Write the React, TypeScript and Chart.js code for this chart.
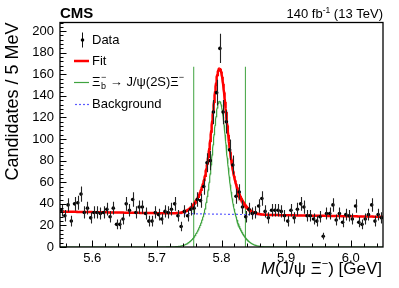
import React, { useEffect, useRef } from 'react';
import { Chart, registerables } from 'chart.js';

Chart.register(...registerables);

// ---- axis ranges / binning ----
const MASS_MIN = 5.55;
const MASS_MAX = 6.05;
const BIN_WIDTH = 0.005;
const Y_MIN = 0;
const Y_MAX = 208;

// ---- data: candidates per 5 MeV bin ----
const counts = [
  34, 29, 39, 24, 40, 41, 49, 32, 36, 27,
  32, 32, 31, 32, 35, 28, 36, 21, 21, 26,
  40, 34, 44, 32, 37, 37, 31, 24, 24, 32,
  30, 26, 33, 32, 35, 40, 29, 19, 33, 29,
  35, 36, 44, 43, 56, 78, 80, 125, 143, 184,
  125, 116, 90, 76, 47, 51, 37, 28, 35, 31,
  32, 38, 45, 33, 27, 34, 34, 34, 33, 29,
  24, 34, 27, 35, 40, 37, 29, 29, 26, 24,
  28, 10, 31, 31, 39, 25, 31, 23, 30, 29,
  26, 38, 23, 21, 26, 30, 39, 24, 30, 27,
];
const binCenters = counts.map((_, i) => MASS_MIN + BIN_WIDTH * (i + 0.5));

// ---- tick labels ----
const xTickValues = [5.6, 5.7, 5.8, 5.9, 6.0];
const yTickValues = [0, 20, 40, 60, 80, 100, 120, 140, 160, 180, 200];

// ---- fit model parameters ----
const SIG_MEAN = 5.797;
const SIG_AMP = 135;
const SIG_SIGMA1 = 0.0095;
const SIG_SIGMA2 = 0.021;
const SIG_FRAC2 = 0.4;
const BKG_AT_MIN = 32.8;
const BKG_SLOPE = -9.6;
const WINDOW_EDGES = [5.757, 5.837];
const WINDOW_TOP = 167;

// ---- legend / labels ----
const legendLabels = ['Data', 'Fit', 'Ξ', 'Background'];
const lumiLabel = '140 fb';
const energyLabel = ' (13 TeV)';
const yTitle = 'Candidates / 5 MeV';

const FONT = '"Liberation Sans", Arial, Helvetica, sans-serif';
const RED = '#ff0000';
const GREEN = '#3fa33f';
const BLUE = '#5a5aff';

const sig = (m: number) => {
  const d = m - SIG_MEAN;
  return SIG_AMP * ((1 - SIG_FRAC2) * Math.exp(-(d * d) / (2 * SIG_SIGMA1 * SIG_SIGMA1)) +
    SIG_FRAC2 * Math.exp(-(d * d) / (2 * SIG_SIGMA2 * SIG_SIGMA2)));
};
const bkg = (m: number) => BKG_AT_MIN + BKG_SLOPE * (m - MASS_MIN);

const curveX: number[] = [];
for (let i = 0; i <= 1000; i++) curveX.push(MASS_MIN + ((MASS_MAX - MASS_MIN) * i) / 1000);

const overlay = {
  id: 'overlay',
  afterDatasetsDraw(chart: any) {
    const { ctx, chartArea: a, scales } = chart;
    const x = scales.x, y = scales.y;
    ctx.save();
    ctx.beginPath();
    ctx.rect(a.left, a.top, a.right - a.left, a.bottom - a.top);
    ctx.clip();
    ctx.strokeStyle = '#222';
    ctx.lineWidth = 1.1;
    binCenters.forEach((m, i) => {
      const n = counts[i];
      const e = Math.sqrt(n);
      const px = Math.round(x.getPixelForValue(m)) + 0.5;
      ctx.beginPath();
      ctx.moveTo(px, y.getPixelForValue(n - e));
      ctx.lineTo(px, y.getPixelForValue(n + e));
      ctx.stroke();
    });
    ctx.restore();
  },
  afterDraw(chart: any) {
    const { ctx, chartArea: a, scales } = chart;
    const x = scales.x, y = scales.y;
    ctx.save();
    // frame
    ctx.strokeStyle = '#000';
    ctx.lineWidth = 1.3;
    ctx.strokeRect(a.left, a.top, a.right - a.left, a.bottom - a.top);
    // ticks
    ctx.lineWidth = 1;
    ctx.beginPath();
    for (let v = 0; v <= Y_MAX + 1e-9; v += 4) {
      const py = Math.round(y.getPixelForValue(v)) + 0.5;
      const len = v % 20 === 0 ? 6.5 : 3.5;
      ctx.moveTo(a.left, py);
      ctx.lineTo(a.left + len, py);
    }
    for (let k = 0; k <= 25; k++) {
      const v = 5.56 + 0.02 * k;
      if (v > MASS_MAX) break;
      const px = Math.round(x.getPixelForValue(v)) + 0.5;
      const major = k % 5 === 2;
      const len = major ? 6.5 : 3.5;
      ctx.moveTo(px, a.bottom);
      ctx.lineTo(px, a.bottom - len);
    }
    ctx.stroke();

    ctx.fillStyle = '#000';
    // CMS
    ctx.font = `bold 15px ${FONT}`;
    ctx.textAlign = 'left';
    ctx.textBaseline = 'alphabetic';
    ctx.fillText('CMS', a.left, 18);
    // lumi
    ctx.font = `13px ${FONT}`;
    const wE = ctx.measureText(energyLabel).width;
    ctx.font = `8.5px ${FONT}`;
    const wS = ctx.measureText('-1').width;
    ctx.font = `13px ${FONT}`;
    const wL = ctx.measureText(lumiLabel).width;
    const xr = a.right;
    ctx.fillText(energyLabel, xr - wE, 18);
    ctx.font = `8.5px ${FONT}`;
    ctx.fillText('-1', xr - wE - wS, 12.5);
    ctx.font = `13px ${FONT}`;
    ctx.fillText(lumiLabel, xr - wE - wS - wL, 18);

    // y title
    ctx.save();
    ctx.translate(13, a.top);
    ctx.rotate(-Math.PI / 2);
    ctx.font = `18px ${FONT}`;
    ctx.textAlign = 'right';
    ctx.textBaseline = 'middle';
    ctx.fillText(yTitle, 0, 0);
    ctx.restore();

    // x title: M(J/ψ Ξ⁻) [GeV]
    {
      const base = 274;
      const p1 = '(J/ψ Ξ';
      const p2 = ') [GeV]';
      const fs = 17;
      ctx.font = `${fs}px ${FONT}`;
      const w2 = ctx.measureText(p2).width;
      const w1 = ctx.measureText(p1).width;
      ctx.font = `11px ${FONT}`;
      const wsup = ctx.measureText('−').width;
      ctx.font = `italic ${fs}px ${FONT}`;
      const wM = ctx.measureText('M').width;
      let xx = a.right - 1 - w2 - wsup - w1 - wM;
      ctx.textAlign = 'left';
      ctx.fillText('M', xx, base); xx += wM;
      ctx.font = `${fs}px ${FONT}`;
      ctx.fillText(p1, xx, base); xx += w1;
      ctx.font = `11px ${FONT}`;
      ctx.fillText('−', xx, base - 7.5); xx += wsup;
      ctx.font = `${fs}px ${FONT}`;
      ctx.fillText(p2, xx, base);
    }

    // legend
    const lx0 = 74, lx1 = 89, tx = 92;
    const rows = [40, 61, 82, 104];
    ctx.textBaseline = 'middle';
    ctx.font = `13px ${FONT}`;
    // Data
    ctx.strokeStyle = '#111';
    ctx.lineWidth = 1;
    ctx.beginPath();
    ctx.moveTo(82.5, rows[0] - 7.5);
    ctx.lineTo(82.5, rows[0] + 7.5);
    ctx.stroke();
    ctx.beginPath();
    ctx.arc(82.5, rows[0], 1.8, 0, Math.PI * 2);
    ctx.fill();
    ctx.fillText(legendLabels[0], tx, rows[0] + 0.5);
    // Fit
    ctx.strokeStyle = RED;
    ctx.lineWidth = 2.5;
    ctx.beginPath();
    ctx.moveTo(lx0, rows[1]);
    ctx.lineTo(lx1, rows[1]);
    ctx.stroke();
    ctx.fillText(legendLabels[1], tx, rows[1] + 0.5);
    // Signal
    ctx.strokeStyle = GREEN;
    ctx.lineWidth = 1.2;
    ctx.beginPath();
    ctx.moveTo(lx0, rows[2] + 0.5);
    ctx.lineTo(lx1, rows[2] + 0.5);
    ctx.stroke();
    {
      let xx = tx;
      const r = rows[2] + 0.5;
      ctx.font = `13px ${FONT}`;
      ctx.fillText(legendLabels[2], xx, r);
      xx += ctx.measureText(legendLabels[2]).width + 0.5;
      ctx.font = `9px ${FONT}`;
      ctx.fillText('b', xx, r + 4);
      ctx.fillText('−', xx, r - 5);
      xx += ctx.measureText('−').width;
      ctx.font = `13px ${FONT}`;
      const mid = ' → J/ψ(2S)Ξ';
      ctx.fillText(mid, xx, r);
      xx += ctx.measureText(mid).width;
      ctx.font = `9px ${FONT}`;
      ctx.fillText('−', xx, r - 5);
    }
    // Background
    ctx.font = `13px ${FONT}`;
    ctx.strokeStyle = BLUE;
    ctx.lineWidth = 1.2;
    ctx.setLineDash([2, 2]);
    ctx.beginPath();
    ctx.moveTo(lx0 + 1, rows[3] + 0.5);
    ctx.lineTo(lx1 + 1, rows[3] + 0.5);
    ctx.stroke();
    ctx.setLineDash([]);
    ctx.fillText(legendLabels[3], tx, rows[3] + 0.5);
    ctx.restore();
  },
};

export default function App() {
  const ref = useRef<HTMLCanvasElement>(null);
  useEffect(() => {
    document.body.style.margin = '0';
    const canvas = ref.current!;
    const dataPts = binCenters.map((m, i) => ({ x: m, y: counts[i] }));
    const fitPts = curveX.map((m) => ({ x: m, y: sig(m) + bkg(m) }));
    const sigPts = curveX.map((m) => ({ x: m, y: sig(m) }));
    const bkgPts = curveX.map((m) => ({ x: m, y: bkg(m) }));
    const winL = [{ x: WINDOW_EDGES[0], y: 0 }, { x: WINDOW_EDGES[0], y: WINDOW_TOP }];
    const winR = [{ x: WINDOW_EDGES[1], y: 0 }, { x: WINDOW_EDGES[1], y: WINDOW_TOP }];
    const lineDs = (data: any[], color: string, width: number, dash: number[] = []) => ({
      type: 'scatter' as const,
      data,
      showLine: true,
      borderColor: color,
      borderWidth: width,
      borderDash: dash,
      pointRadius: 0,
      tension: 0,
      fill: false,
    });
    const chart = new Chart(canvas, {
      type: 'scatter',
      data: {
        datasets: [
          {
            data: dataPts,
            pointRadius: 1.8,
            pointBackgroundColor: '#000',
            pointBorderWidth: 0,
            showLine: false,
          } as any,
          lineDs(fitPts, RED, 2.5),
          lineDs(bkgPts, BLUE, 1.2, [2, 2]),
          lineDs(sigPts, GREEN, 1.2),
          lineDs(winL, GREEN, 1),
          lineDs(winR, GREEN, 1),
        ],
      },
      options: {
        responsive: false,
        animation: false,
        devicePixelRatio: 1,
        layout: { padding: { top: 22.5, right: 16, left: 0, bottom: 0 } },
        plugins: { legend: { display: false }, tooltip: { enabled: false } },
        events: [],
        scales: {
          x: {
            type: 'linear',
            min: MASS_MIN,
            max: MASS_MAX,
            grid: { display: false, drawTicks: false },
            border: { display: false },
            afterBuildTicks: (s: any) => { s.ticks = xTickValues.map((v) => ({ value: v })); },
            afterFit: (s: any) => { s.height = 41; },
            ticks: {
              autoSkip: false,
              maxRotation: 0,
              padding: 4,
              color: '#000',
              font: { family: FONT, size: 13 },
              callback: (v: any) => Number(v).toFixed(1),
            },
          },
          y: {
            type: 'linear',
            min: Y_MIN,
            max: Y_MAX,
            grid: { display: false, drawTicks: false },
            border: { display: false },
            afterBuildTicks: (s: any) => { s.ticks = yTickValues.map((v) => ({ value: v })); },
            afterFit: (s: any) => { s.width = 60; },
            ticks: {
              autoSkip: false,
              padding: 6,
              color: '#000',
              font: { family: FONT, size: 13 },
              callback: (v: any) => String(v),
            },
          },
        },
      },
      plugins: [overlay],
    });
    return () => chart.destroy();
  }, []);
  return <canvas ref={ref} width={399} height={288} style={{ display: 'block', width: 399, height: 288 }} />;
}
